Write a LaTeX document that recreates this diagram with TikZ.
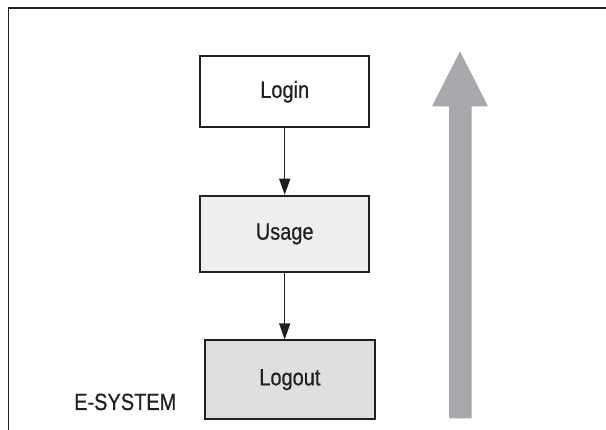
\documentclass[tikz,border=0pt]{standalone}
\usepackage{fontspec}
\setmainfont[FakeStretch=0.85,FakeBold=0.6]{Liberation Sans}
\usetikzlibrary{arrows.meta}
\definecolor{inkdark}{HTML}{231F20}
\definecolor{usagefill}{HTML}{EEEEEE}
\definecolor{logoutfill}{HTML}{DEDFE1}
\definecolor{bigarrow}{HTML}{A7A8AB}
\tikzset{
  stagebox/.style={draw=inkdark, line width=2pt, inner sep=0pt, text=inkdark,
    font=\fontsize{23.5}{26}\selectfont},
  flow/.style={draw=inkdark, line width=1.4pt, -{Triangle[length=16pt,width=11pt]}}
}
\begin{document}
\begin{tikzpicture}[x=1pt,y=-1pt]
  \useasboundingbox (0,0) rectangle (606,430);
  % outer frame (open to the right and bottom)
  \draw[inkdark, line width=1.8pt] (606,7.7) -- (8.5,7.7) -- (8.5,430);
  % stages
  \node[stagebox, fill=white, minimum width=169pt, minimum height=71pt] (login) at (284.7,91.8) {Login};
  \node[stagebox, fill=usagefill, minimum width=169pt, minimum height=76.5pt] (usage) at (284.7,234) {Usage};
  \node[stagebox, fill=logoutfill, minimum width=169.5pt, minimum height=78.5pt] (logout) at (289.9,379.7) {Logout};
  \draw[flow] (login.south -| usage.north) -- (usage.north);
  \draw[flow] (usage.south) -- (usage.south |- logout.north);
  % big upward arrow
  \fill[bigarrow] (449,418.5) -- (449,106.3) -- (432,106.3) -- (460,51.4) -- (488,106.3) -- (471.5,106.3) -- (471.5,418.5) -- cycle;
  % system label
  \node[anchor=base west, inner sep=0pt, text=inkdark, font=\fontsize{23.5}{26}\selectfont] (sys) at (74,410) {E-SYSTEM};
\end{tikzpicture}
\end{document}
